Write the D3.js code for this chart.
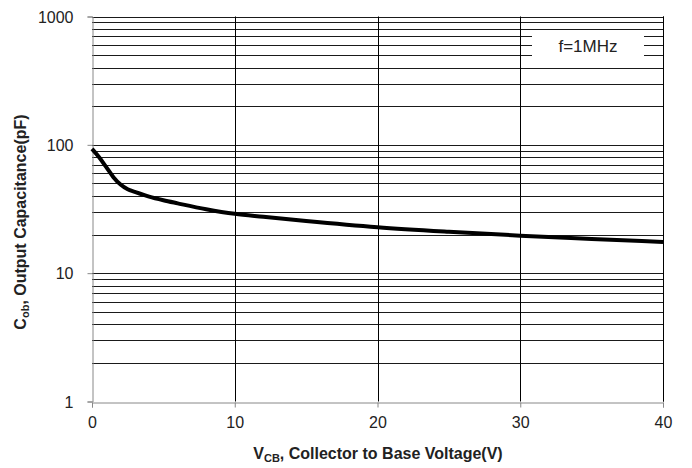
<!DOCTYPE html>
<html>
<head>
<meta charset="utf-8">
<script src="https://cdn.jsdelivr.net/npm/d3@7"></script>
<style>
  body { margin: 0; background: #fff; }
  text { font-family: "Liberation Sans", Arial, sans-serif; fill: #222; }
</style>
</head>
<body>
<svg id="chart" width="692" height="468"></svg>
<script>
// data
const vcb = [0, 0.5, 1, 1.5, 2, 2.5, 3, 4, 5, 6, 8, 10, 12, 15, 20, 25, 30, 35, 40];
const cob = [93, 80, 67, 56, 49, 45, 43, 39.5, 37, 35, 31.5, 29, 27.5, 25.5, 22.8, 21, 19.6, 18.5, 17.5];
const xTicks = [0, 10, 20, 30, 40];
const yTicks = [1, 10, 100, 1000];
const noteText = "f=1MHz";

const svg = d3.select("#chart");
const plotL = 92, plotR = 663, plotT = 16.5, plotB = 401.5;

const x = d3.scaleLinear().domain([0, 40]).range([plotL, plotR]);
const y = d3.scaleLog().domain([1, 1000]).range([plotB, plotT]);

// horizontal grid: 1..9 per decade
const gridY = [];
for (let d = 1; d < 1000; d *= 10) {
  for (let m = 1; m < 10; m++) gridY.push(d * m);
}
gridY.push(1000);

svg.append("g")
  .selectAll("line")
  .data(gridY.filter(v => v > 1))
  .enter()
  .append("line")
  .attr("x1", plotL).attr("x2", plotR)
  .attr("y1", d => Math.round(y(d)) + 0.5)
  .attr("y2", d => Math.round(y(d)) + 0.5)
  .attr("stroke", "#1a1a1a")
  .attr("stroke-width", 1);

// vertical grid
svg.append("g")
  .selectAll("line")
  .data(xTicks.filter(v => v > 0))
  .enter()
  .append("line")
  .attr("x1", d => Math.round(x(d)) + 0.5)
  .attr("x2", d => Math.round(x(d)) + 0.5)
  .attr("y1", plotT).attr("y2", plotB)
  .attr("stroke", "#000")
  .attr("stroke-width", 1);

// axes (gray)
const yAxis = d3.axisLeft(y).tickValues(yTicks).tickFormat(d3.format("d")).tickSize(5).tickPadding(14);
const xAxis = d3.axisBottom(x).tickValues(xTicks).tickSize(5).tickPadding(9);

const gy = svg.append("g").attr("transform", `translate(${plotL + 0.5},0)`).call(yAxis);
const gx = svg.append("g").attr("transform", `translate(0,${Math.round(plotB) + 0.5})`).call(xAxis);
[gy, gx].forEach(g => {
  g.select(".domain").attr("stroke", "#888");
  g.selectAll(".tick line").attr("stroke", "#888");
  g.selectAll(".tick text")
    .attr("font-size", 16)
    .attr("font-family", "Liberation Sans, Arial, sans-serif")
    .attr("fill", "#222");
});
gy.selectAll(".tick text").attr("dy", "0.36em");

// note box
const note = svg.append("g");
note.append("rect")
  .attr("x", 532).attr("y", 31)
  .attr("width", 112).attr("height", 29)
  .attr("fill", "#fff");
note.append("text")
  .attr("x", 588).attr("y", 52)
  .attr("text-anchor", "middle")
  .attr("font-size", 17)
  .text(noteText);

// curve
const line = d3.line()
  .x((d, i) => x(vcb[i]))
  .y(d => y(d))
  .curve(d3.curveMonotoneX);

svg.append("path")
  .attr("d", line(cob))
  .attr("fill", "none")
  .attr("stroke", "#000")
  .attr("stroke-width", 4)
  .attr("stroke-linecap", "butt");

// axis titles
const xt = svg.append("text")
  .attr("x", 378).attr("y", 459)
  .attr("text-anchor", "middle")
  .attr("font-size", 16)
  .attr("font-weight", "bold");
xt.append("tspan").text("V");
xt.append("tspan").attr("font-size", 11).attr("dy", 3).text("CB");
xt.append("tspan").attr("dy", -3).text(", Collector to Base Voltage(V)");

const yt = svg.append("text")
  .attr("transform", "translate(26,222) rotate(-90)")
  .attr("text-anchor", "middle")
  .attr("font-size", 16)
  .attr("font-weight", "bold");
yt.append("tspan").text("C");
yt.append("tspan").attr("font-size", 11).attr("dy", 3).text("ob");
yt.append("tspan").attr("dy", -3).text(", Output Capacitance(pF)");

// right border
svg.append("line")
  .attr("x1", plotR + 0.5).attr("x2", plotR + 0.5)
  .attr("y1", plotT).attr("y2", plotB)
  .attr("stroke", "#000");
</script>
</body>
</html>
